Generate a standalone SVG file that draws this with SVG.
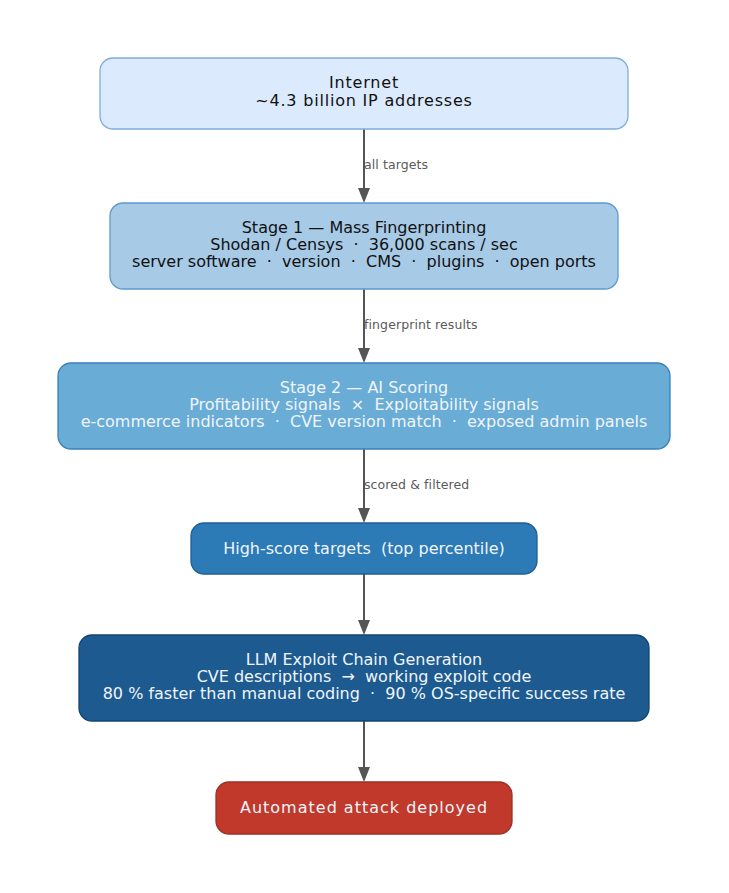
<svg xmlns="http://www.w3.org/2000/svg" width="729" height="893" viewBox="0 0 729 893" xml:space="preserve">
<style>
text{font-family:"DejaVu Sans",sans-serif;text-anchor:middle;white-space:pre}
.t{font-size:16px;fill:#111}
.w{font-size:16px;fill:#f0f5fb}
.lbl{font-size:12.5px;fill:#5a5a5a;text-anchor:start;letter-spacing:0.1px}
.e{stroke:#555;stroke-width:2;fill:none}
.n{stroke-width:1.3}
</style>
<defs>
<marker id="ah" viewBox="0 0 15 12" refX="0" refY="6" markerWidth="15" markerHeight="12" markerUnits="userSpaceOnUse" orient="auto">
<path d="M0,0 L15,6 L0,12 Z" fill="#555"/>
</marker>
</defs>
<rect width="729" height="893" fill="#fff"/>
<g id="connectors">
<line class="e" x1="364" y1="129" x2="364" y2="188" marker-end="url(#ah)"/>
<text class="lbl" x="364" y="169">all targets</text>
<line class="e" x1="364" y1="289" x2="364" y2="348" marker-end="url(#ah)"/>
<text class="lbl" x="364" y="329">fingerprint results</text>
<line class="e" x1="364" y1="449" x2="364" y2="508" marker-end="url(#ah)"/>
<text class="lbl" x="364" y="489">scored &amp; filtered</text>
<line class="e" x1="364" y1="574" x2="364" y2="620" marker-end="url(#ah)"/>
<line class="e" x1="364" y1="721" x2="364" y2="767" marker-end="url(#ah)"/>
</g>
<g id="internet">
<rect class="n" x="100" y="58" width="528" height="71" rx="13" fill="#dbeafc" stroke="#7eaedc"/>
<text class="t" x="364" y="88" style="letter-spacing:0.8px">Internet</text>
<text class="t" x="364" y="106" style="letter-spacing:0.8px">~4.3 billion IP addresses</text>
</g>
<g id="stage1">
<rect class="n" x="110" y="203" width="508" height="86" rx="13" fill="#a7cae7" stroke="#5b9bd1"/>
<text class="t" x="364" y="233">Stage 1 — Mass Fingerprinting</text>
<text class="t" x="364" y="250">Shodan / Censys  ·  36,000 scans / sec</text>
<text class="t" x="364" y="267">server software  ·  version  ·  CMS  ·  plugins  ·  open ports</text>
</g>
<g id="stage2">
<rect class="n" x="58" y="363" width="612" height="86" rx="13" fill="#69acd6" stroke="#3a80bd"/>
<text class="w" x="364" y="393">Stage 2 — AI Scoring</text>
<text class="w" x="364" y="410">Profitability signals  ×  Exploitability signals</text>
<text class="w" x="364" y="427">e-commerce indicators  ·  CVE version match  ·  exposed admin panels</text>
</g>
<g id="highscore">
<rect class="n" x="191" y="523" width="346" height="51" rx="13" fill="#2c7ab6" stroke="#1f5f96"/>
<text class="w" x="364" y="553.5">High-score targets  (top percentile)</text>
</g>
<g id="llm">
<rect class="n" x="79" y="635" width="570" height="86" rx="13" fill="#1c5a8f" stroke="#134472"/>
<text class="w" x="364" y="665">LLM Exploit Chain Generation</text>
<text class="w" x="364" y="682">CVE descriptions  →  working exploit code</text>
<text class="w" x="364" y="699">80 % faster than manual coding  ·  90 % OS-specific success rate</text>
</g>
<g id="attack">
<rect class="n" x="216" y="782" width="296" height="52" rx="13" fill="#c0392b" stroke="#9e2f25"/>
<text class="w" x="364" y="813" style="letter-spacing:1px">Automated attack deployed</text>
</g>
</svg>
